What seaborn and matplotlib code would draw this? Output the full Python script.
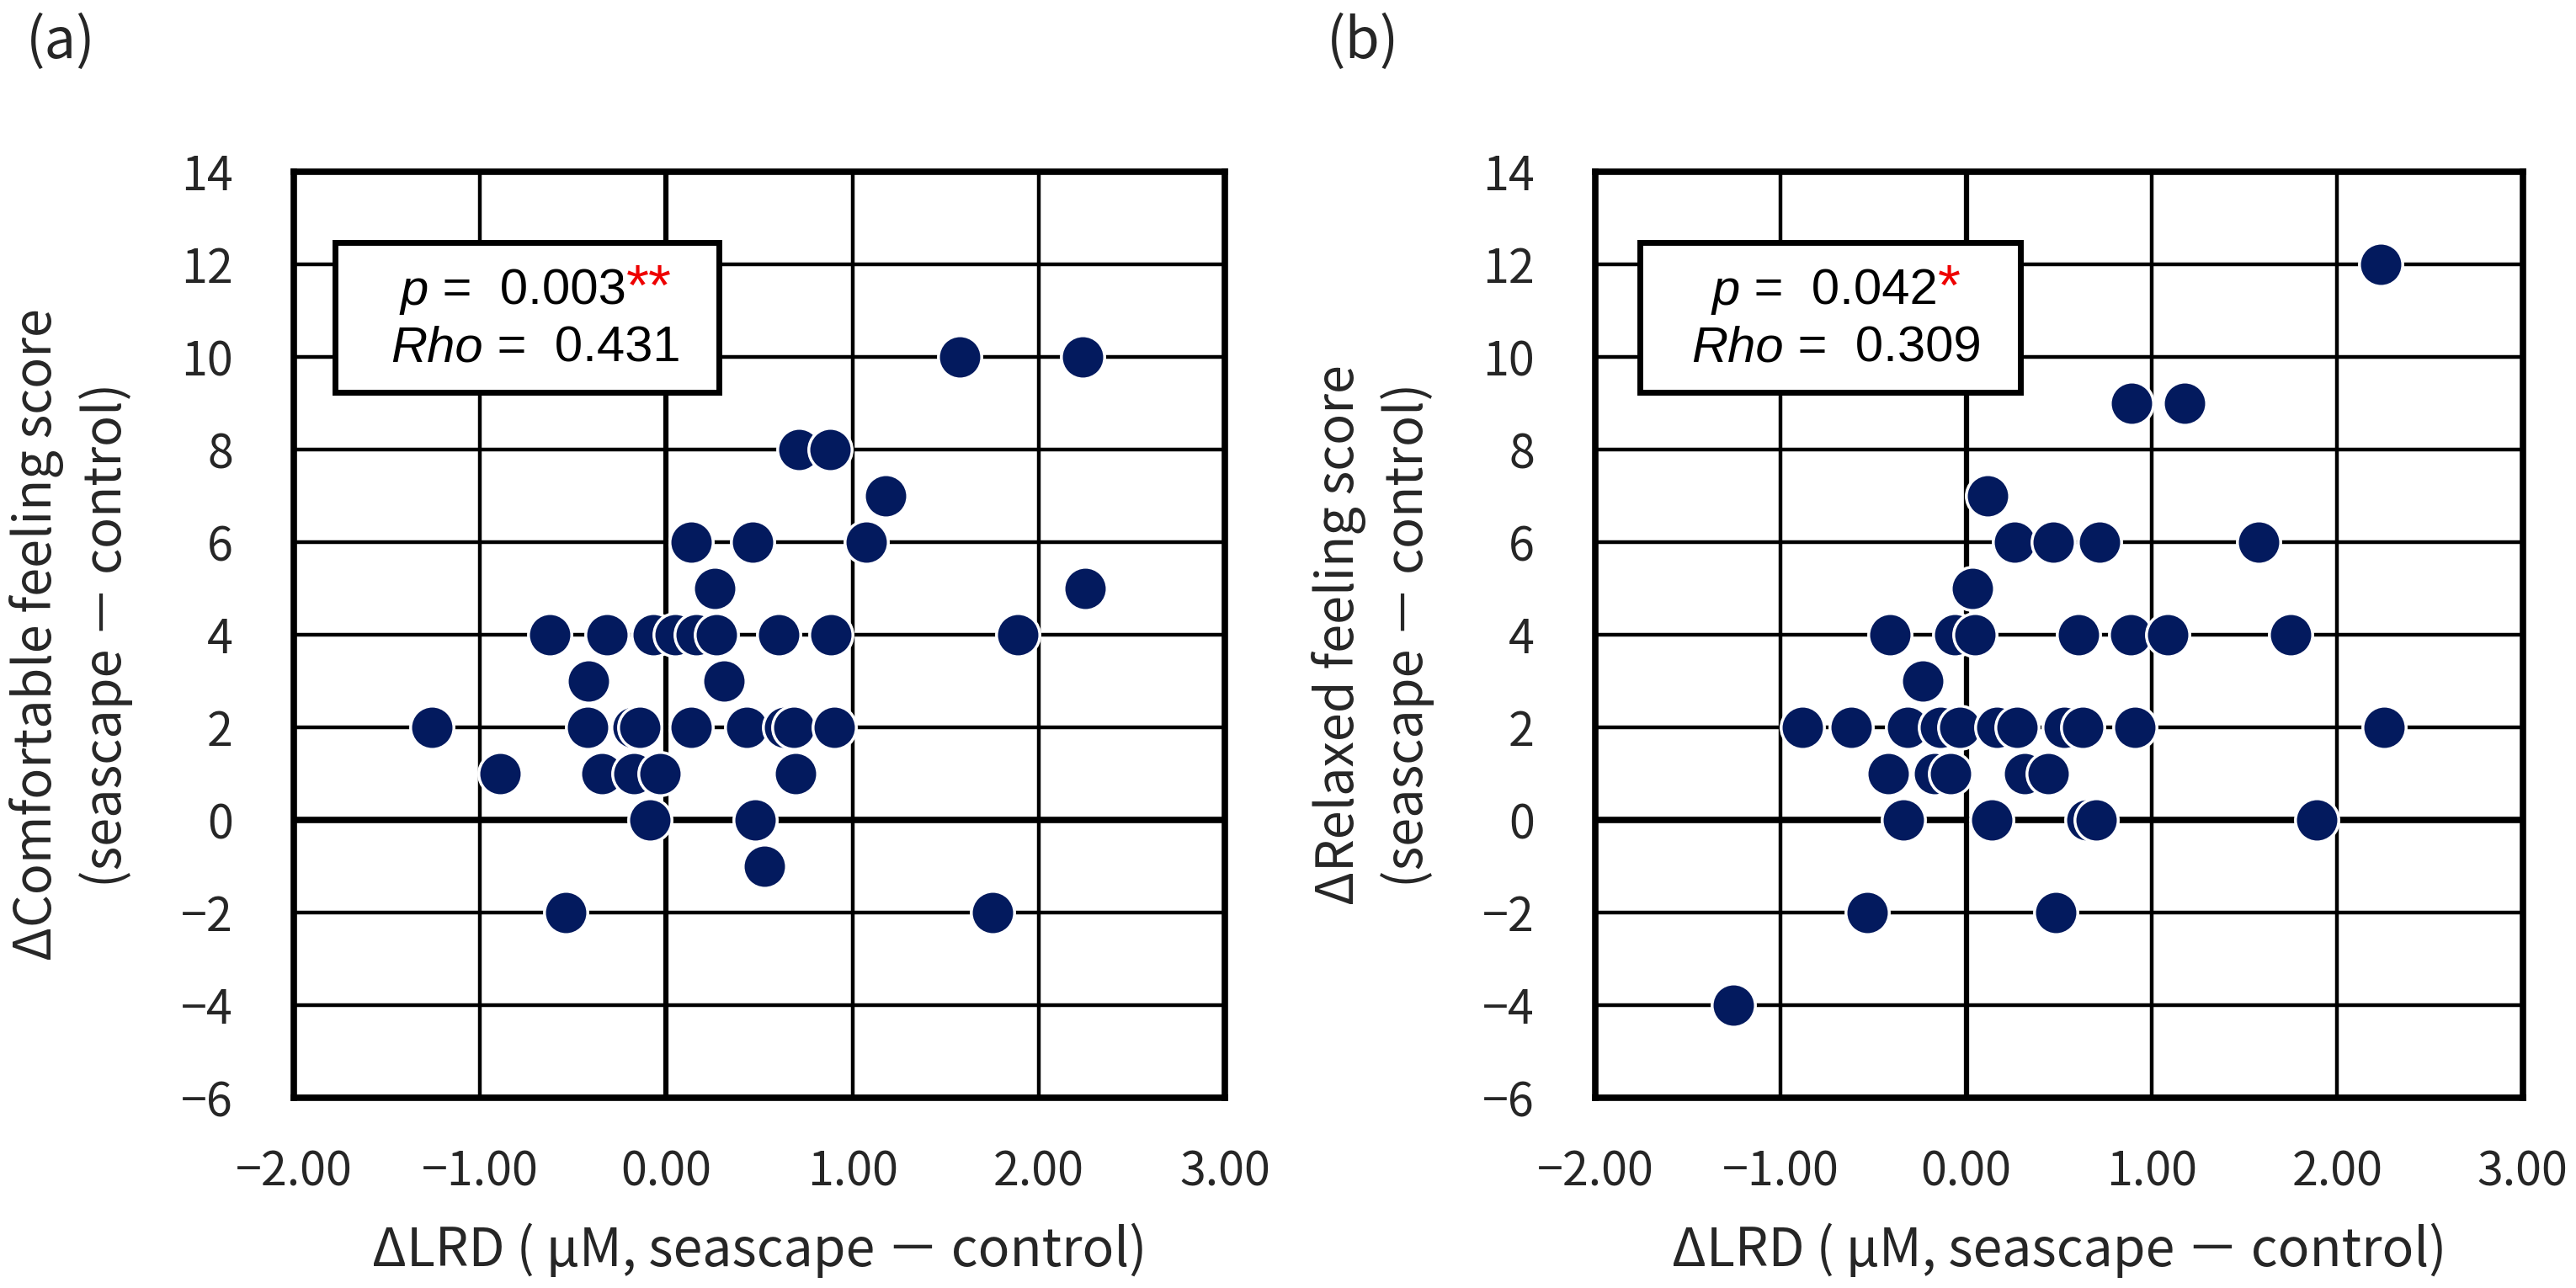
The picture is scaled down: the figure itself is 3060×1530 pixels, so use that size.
import matplotlib
matplotlib.use("Agg")
import matplotlib.pyplot as plt
import seaborn as sns
from matplotlib.patches import Rectangle
from matplotlib.offsetbox import TextArea, HPacker, VPacker, AnchoredOffsetbox

# ===== DATA =====
# (a) ΔLRD vs ΔComfortable feeling score
comf_lrd = [1.575, 2.235,
            0.710, 0.881,
            1.177,
            0.134, 0.462, 1.075,
            0.258, 2.248,
            -0.625, -0.318, -0.068, 0.049, 0.162, 0.268, 0.602, 0.886, 1.889,
            -0.416, 0.311,
            -1.259, -0.424, -0.177, -0.141, 0.134, 0.432, 0.636, 0.686, 0.902,
            -0.891, -0.344, -0.174, -0.032, 0.693,
            -0.088, 0.477,
            0.526,
            -0.539, 1.750]
comf_score = [10, 10,
              8, 8,
              7,
              6, 6, 6,
              5, 5,
              4, 4, 4, 4, 4, 4, 4, 4, 4,
              3, 3,
              2, 2, 2, 2, 2, 2, 2, 2, 2,
              1, 1, 1, 1, 1,
              0, 0,
              -1,
              -2, -2]

# (b) ΔLRD vs ΔRelaxed feeling score
relax_lrd = [2.235,
             0.889, 1.178,
             0.115,
             0.260, 0.468, 0.717, 1.575,
             0.034,
             -0.412, -0.061, 0.045, 0.605, 0.885, 1.084, 1.750,
             -0.235,
             -0.884, -0.620, -0.316, -0.139, -0.033, 0.166, 0.272, 0.527, 0.629, 0.908, 2.253,
             -0.419, -0.172, -0.086, 0.315, 0.440,
             -0.340, 0.138, 0.652, 0.700, 1.891,
             -0.532, 0.483,
             -1.255]
relax_score = [12,
               9, 9,
               7,
               6, 6, 6, 6,
               5,
               4, 4, 4, 4, 4, 4, 4,
               3,
               2, 2, 2, 2, 2, 2, 2, 2, 2, 2, 2,
               1, 1, 1, 1, 1,
               0, 0, 0, 0, 0,
               -2, -2,
               -4]

x_ticks = [-2, -1, 0, 1, 2, 3]
x_tick_labels = ["−2.00", "−1.00", "0.00", "1.00", "2.00", "3.00"]
y_ticks = [-6, -4, -2, 0, 2, 4, 6, 8, 10, 12, 14]
y_tick_labels = ["−6", "−4", "−2", "0", "2", "4", "6", "8", "10", "12", "14"]

panel_tags = ["(a)", "(b)"]
y_titles = ["ΔComfortable feeling score\n(seascape － control)",
            "ΔRelaxed feeling score\n(seascape － control)"]
x_title = "ΔLRD ( μM, seascape － control)"
p_values = ["0.003", "0.042"]
p_stars = ["**", "*"]
rho_values = ["0.431", "0.309"]

# ===== STYLE =====
sns.set_style("white")
plt.rcParams['font.family'] = ['Noto Sans CJK JP', 'DejaVu Sans']
navy = "#031a5e"
box_font = 'Liberation Sans'

fig = plt.figure(figsize=(30.6, 15.3), dpi=100)
ax_a = fig.add_axes([0.1141, 0.1477, 0.3614, 0.719])
ax_b = fig.add_axes([0.6193, 0.1477, 0.3600, 0.719])


def draw_panel(ax, xs, ys, ytitle, pval, stars, rho, box_left, box_w):
    sns.scatterplot(x=xs, y=ys, ax=ax, s=1370, color=navy,
                    edgecolor='white', linewidth=2.5, zorder=3, legend=False)

    ax.set_xlim(-2, 3)
    ax.set_ylim(-6, 14)
    ax.set_xticks(x_ticks)
    ax.set_xticklabels(x_tick_labels)
    ax.set_yticks(y_ticks)
    ax.set_yticklabels(y_tick_labels)
    ax.tick_params(axis='both', length=0, labelsize=40)
    ax.tick_params(axis='x', pad=43)
    ax.tick_params(axis='y', pad=52)

    # grid + zero lines
    ax.grid(True, color='black', linewidth=3.2)
    ax.set_axisbelow(True)
    ax.axhline(0, color='black', linewidth=5.5, zorder=1.5)
    ax.axvline(0, color='black', linewidth=4.5, zorder=1.5)
    for sp in ax.spines.values():
        sp.set_visible(True)
        sp.set_color('black')
        sp.set_linewidth(5.5)

    ax.set_xlabel(x_title, fontsize=45)
    ax.xaxis.set_label_coords(0.5, -0.135)
    ax.set_ylabel(ytitle, fontsize=44, linespacing=1.35)
    ax.yaxis.set_label_coords(-0.173, 0.5)

    # stats box
    rect = Rectangle((box_left, 0.762), box_w, 0.162, transform=ax.transAxes,
                     facecolor='white', edgecolor='black', linewidth=5, zorder=4)
    ax.add_patch(rect)
    tp = dict(fontsize=43, family=box_font, color='black')
    ti = dict(fontsize=43, family=box_font, color='black', style='italic')
    tr = dict(fontsize=50, family=box_font, color='#ee0000')
    line1 = HPacker(children=[TextArea("p", textprops=ti),
                              TextArea(" =  " + pval, textprops=tp),
                              TextArea(stars, textprops=tr)],
                    align='baseline', pad=0, sep=0)
    line2 = HPacker(children=[TextArea("Rho", textprops=ti),
                              TextArea(" =  " + rho, textprops=tp)],
                    align='baseline', pad=0, sep=0)
    block = VPacker(children=[line1, line2], align='center', pad=0, sep=8)
    anch = AnchoredOffsetbox(loc='center', child=block, frameon=False,
                             bbox_to_anchor=(0.26, 0.843), bbox_transform=ax.transAxes,
                             pad=0, borderpad=0)
    anch.set_zorder(5)
    ax.add_artist(anch)


draw_panel(ax_a, comf_lrd, comf_score, y_titles[0], p_values[0], p_stars[0], rho_values[0], 0.0439, 0.413)
draw_panel(ax_b, relax_lrd, relax_score, y_titles[1], p_values[1], p_stars[1], rho_values[1], 0.0477, 0.411)

fig.text(0.0235, 0.967, panel_tags[0], ha='center', va='center', fontsize=48)
fig.text(0.529, 0.967, panel_tags[1], ha='center', va='center', fontsize=48)

fig.savefig('out.png', dpi=100)
